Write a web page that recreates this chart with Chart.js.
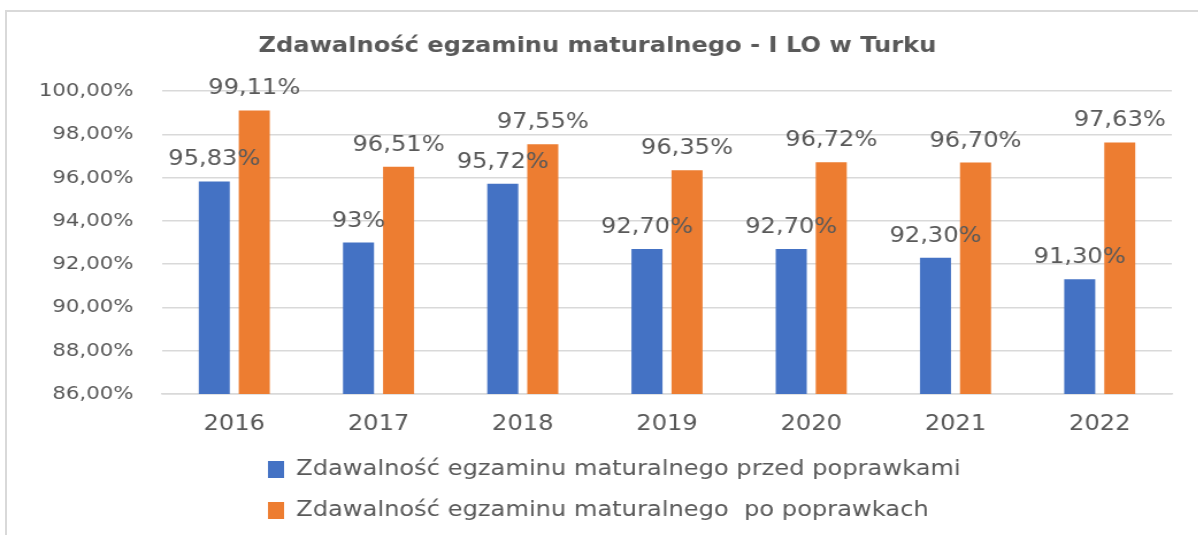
<!DOCTYPE html>
<html>
<head>
<meta charset="utf-8">
<script src="https://cdn.jsdelivr.net/npm/chart.js@4"></script>
<style>
  html, body { margin: 0; padding: 0; background: #fff; overflow: hidden; }
  #frame { position: absolute; left: 5px; top: 10px; width: 1300px; height: 600px;
           border-top: 2px solid #d9d9d9; border-left: 2px solid #d9d9d9; box-sizing: border-box; }
  /* the source picture is a horizontally stretched screenshot, so stretch the canvas the same way */
  #wrap { position: absolute; left: 0; top: 0; width: 1042px; height: 535px;
          transform: scaleX(1.15); transform-origin: 0 0; }
</style>
</head>
<body>
<div id="frame"></div>
<div id="wrap"><canvas id="chart"></canvas></div>
<script>
var years = ['2016', '2017', '2018', '2019', '2020', '2021', '2022'];
var przed = [95.83, 93, 95.72, 92.70, 92.70, 92.30, 91.30];
var po = [99.11, 96.51, 97.55, 96.35, 96.72, 96.70, 97.63];
var przedLabels = ['95,83%', '93%', '95,72%', '92,70%', '92,70%', '92,30%', '91,30%'];
var poLabels = ['99,11%', '96,51%', '97,55%', '96,35%', '96,72%', '96,70%', '97,63%'];
var yTicks = { min: 86, max: 100, step: 2 };

var gray = '#595959';
var font = 'DejaVu Sans';

// value labels above the bars, like excel does
var barLabels = {
    id: 'barLabels',
    afterDatasetsDraw: function (chart) {
	var ctx = chart.ctx;
	ctx.save();
	ctx.font = '21px "' + font + '"';
	ctx.fillStyle = gray;
	ctx.textAlign = 'center';
	ctx.textBaseline = 'alphabetic';
	chart.data.datasets.forEach(function (ds, i) {
	    var meta = chart.getDatasetMeta(i);
	    meta.data.forEach(function (bar, j) {
		ctx.fillText(ds.valueLabels[j], bar.x, bar.y - 16);
	    });
	});
	ctx.restore();
    }
};

// legend rows start at the same x, not centred one by one
var legendShift = {
    id: 'legendShift',
    afterLayout: function (chart) {
	chart.legend.left = 233 - chart.legend.options.labels.padding;
    }
};

var ctx = document.getElementById('chart').getContext('2d');
var chart = new Chart(ctx, {
    type: 'bar',
    data: {
	labels: years,
	datasets: [{
	    label: 'Zdawalność egzaminu maturalnego przed poprawkami',
	    data: przed,
	    valueLabels: przedLabels,
	    backgroundColor: '#4472C4',
	    borderWidth: 0
	}, {
	    label: 'Zdawalność egzaminu maturalnego  po poprawkach',
	    data: po,
	    valueLabels: poLabels,
	    backgroundColor: '#ED7D31',
	    borderWidth: 0
	}]
    },
    options: {
	responsive: true,
	maintainAspectRatio: false,
	animation: false,
	categoryPercentage: 0.555,
	barPercentage: 0.775,
	layout: { padding: { left: 20, right: 23, top: 12, bottom: 4 } },
	plugins: {
	    title: {
		display: true,
		text: 'Zdawalność egzaminu maturalnego - I LO w Turku',
		color: gray,
		font: { family: font, size: 21, weight: 'bold' },
		padding: { top: 22, bottom: 32 }
	    },
	    legend: {
		position: 'bottom',
		align: 'start',
		labels: {
		    boxWidth: 14,
		    boxHeight: 17,
		    padding: 20,
		    color: gray,
		    font: { family: font, size: 21 }
		}
	    },
	    tooltip: { enabled: false }
	},
	scales: {
	    x: {
		grid: { display: false },
		border: { color: '#d9d9d9', width: 1.5 },
		ticks: { color: gray, font: { family: font, size: 21 }, padding: 10 },
		afterFit: function (scale) { scale.height = 45; }
	    },
	    y: {
		min: yTicks.min,
		max: yTicks.max,
		border: { display: false },
		grid: { color: '#d9d9d9', lineWidth: 1.5, drawTicks: false },
		ticks: {
		    stepSize: yTicks.step,
		    color: gray,
		    padding: 25,
		    font: { family: font, size: 18.5 },
		    callback: function (v) { return v.toFixed(2).replace('.', ',') + '%'; }
		},
		afterFit: function (scale) { scale.width = 121; }
	    }
	}
    },
    plugins: [barLabels, legendShift]
});
</script>
</body>
</html>
